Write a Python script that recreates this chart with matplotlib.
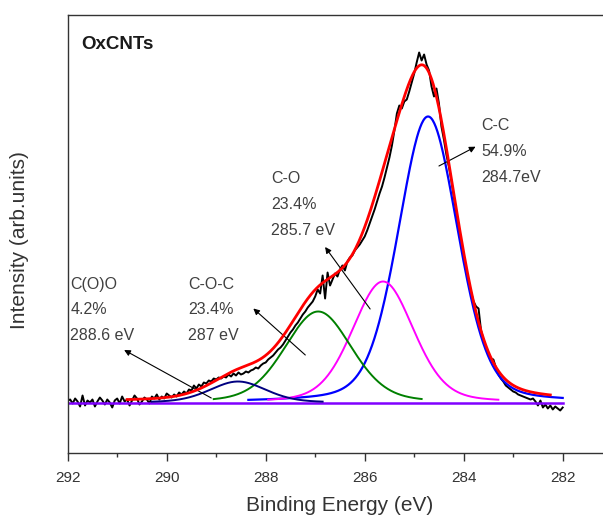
import numpy as np
import matplotlib
matplotlib.use("Agg")
import matplotlib.pyplot as plt
from matplotlib.ticker import MultipleLocator

plt.rcParams['font.family'] = ['Liberation Sans', 'DejaVu Sans']

# ---- measured C1s spectrum (0.05 eV steps, 292.00 -> 282.00 eV, background removed) ----
energy_start = 292.0
energy_step = 0.05
intensity = [
    2, 3, -1, 4, 1, -4, 7, -3, 2, 0,
    3, -4, 1, 5, 2, -2, 3, 0, -5, 2,
    4, -1, 6, 1, 3, -3, 2, 7, 4, -2,
    1, 5, 3, -1, 6, 4, 8, 3, 6, 4,
    9, 7, 5, 8, 6, 10, 8, 11, 9, 13,
    12, 17, 14, 18, 16, 20, 19, 22, 21, 24,
    23, 25, 24, 26, 25, 28, 26, 29, 27, 30,
    28, 29, 31, 30, 32, 33, 35, 34, 37, 39,
    40, 43, 45, 47, 50, 53, 55, 58, 62, 66,
    70, 73, 77, 80, 84, 88, 91, 95, 98, 101,
    106, 113, 109, 127, 104, 130, 117, 123, 129, 126,
    133, 137, 132, 141, 145, 147, 152, 155, 158, 162,
    166, 172, 179, 186, 193, 201, 209, 216, 225, 235,
    245, 257, 272, 289, 297, 294, 301, 303, 311, 320,
    329, 340, 350, 342, 348, 338, 332, 316, 306, 314,
    299, 276, 263, 248, 236, 222, 206, 190, 173, 158,
    146, 133, 122, 110, 101, 96, 94, 72, 63, 55,
    48, 44, 43, 35, 28, 24, 21, 17, 15, 13,
    11, 10, 8, 7, 6, 5, 4, 3, 4, 1,
    -3, 2, -5, -2, -6, -3, -7, -4, -6, -8,
    -5,
]

# ---- fitted components (pseudo-Voigt, shared Lorentzian fraction) ----
peak_names = ["C-C", "C-O", "C-O-C", "C(O)O"]
peak_centers = [284.72, 285.63, 286.94, 288.56]
peak_heights = [286, 121, 91, 21]
peak_fwhm = [1.42, 1.46, 1.60, 1.34]
peak_percent = ["54.9%", "23.4%", "23.4%", "4.2%"]
peak_energy_labels = ["284.7eV", "285.7 eV", "287 eV", "288.6 eV"]
peak_ranges = [(288.35, 282.0), (287.95, 283.3), (289.05, 284.85), (290.3, 286.85)]
lorentz_fraction = 0.25
envelope_range = (290.8, 282.25)
baseline_range = (292.0, 282.0)

peak_colors = ["#0000ff", "#ff00ff", "#008000", "#000080"]


def pseudo_voigt(e, c, h, w, m):
    x = (e - c) / w
    g = np.exp(-4 * np.log(2) * x ** 2)
    l = 1.0 / (1.0 + 4 * x ** 2)
    return h * ((1 - m) * g + m * l)


fig = plt.figure(figsize=(6.03, 5.16), dpi=100)
ax = fig.add_axes([67.7 / 603, (516 - 453.3) / 516, 544.5 / 603, 438.3 / 516])

e_raw = energy_start - energy_step * np.arange(len(intensity))
ax.plot(e_raw, intensity, color="black", lw=1.4, zorder=1)

# baseline
eb = np.linspace(baseline_range[0], baseline_range[1], 400)
ax.plot(eb, np.zeros_like(eb), color="#8000ff", lw=1.8, zorder=2)

# components
for c, h, w, rng, col in zip(peak_centers, peak_heights, peak_fwhm, peak_ranges, peak_colors):
    e = np.linspace(rng[0], rng[1], 400)
    ax.plot(e, pseudo_voigt(e, c, h, w, lorentz_fraction), color=col,
            lw=1.6 if col == "#0000ff" else 1.4, zorder=3)

# envelope
ee = np.linspace(envelope_range[0], envelope_range[1], 600)
env = sum(pseudo_voigt(ee, c, h, w, lorentz_fraction)
          for c, h, w in zip(peak_centers, peak_heights, peak_fwhm))
ax.plot(ee, env, color="#ff0000", lw=2.0, zorder=4)

ax.set_xlim(292, 281)
ax.set_ylim(-50.8, 387.5)
ax.xaxis.set_major_locator(MultipleLocator(2))
ax.xaxis.set_minor_locator(MultipleLocator(1))
ax.set_yticks([])
ax.tick_params(axis="x", which="major", direction="out", length=6, width=1.0,
               labelsize=11, labelcolor="#333333", color="#333333", pad=6.5)
ax.tick_params(axis="x", which="minor", direction="out", length=3, width=1.0, color="#333333")
for s in ax.spines.values():
    s.set_color("#333333")
    s.set_linewidth(1.0)

ax.set_xlabel("Binding Energy (eV)", fontsize=15, color="#333333", labelpad=8.5)
ax.set_ylabel("Intensity (arb.units)", fontsize=15, color="#333333")
ax.yaxis.set_label_coords(-0.071, 0.487)

ax.text(0.024, 0.9316, "OxCNTs", transform=ax.transAxes, fontsize=13.5,
        fontweight="bold", color="#1a1a1a", va="center", ha="left")

# peak labels (name, fraction, position) and pointers
label_pos = {
    "C-C": (283.64, [277.5, 250.8, 225.2]),
    "C-O": (287.89, [224.5, 198.5, 172.5]),
    "C-O-C": (289.57, [118.5, 93.5, 67.5]),
    "C(O)O": (291.95, [118.5, 93.5, 67.5]),
}
arrow_pos = {
    "C-C": ((284.50, 236.5), (283.76, 255.8)),
    "C-O": ((285.89, 93.5), (286.80, 155.5)),
    "C-O-C": ((287.20, 47.5), (288.25, 94.0)),
    "C(O)O": ((289.10, 4.5), (290.86, 52.5)),
}
for name, pct, elab in zip(peak_names, peak_percent, peak_energy_labels):
    x0, ys = label_pos[name]
    for txt, y in zip([name, pct, elab], ys):
        ax.text(x0, y, txt, fontsize=11.5, color="#404040", ha="left", va="center")
    tail, head = arrow_pos[name]
    ax.annotate("", xy=head, xytext=tail,
                arrowprops=dict(arrowstyle="-|>", color="black", lw=0.8,
                                mutation_scale=9, shrinkA=0, shrinkB=0))

fig.savefig("out.png", dpi=100)
